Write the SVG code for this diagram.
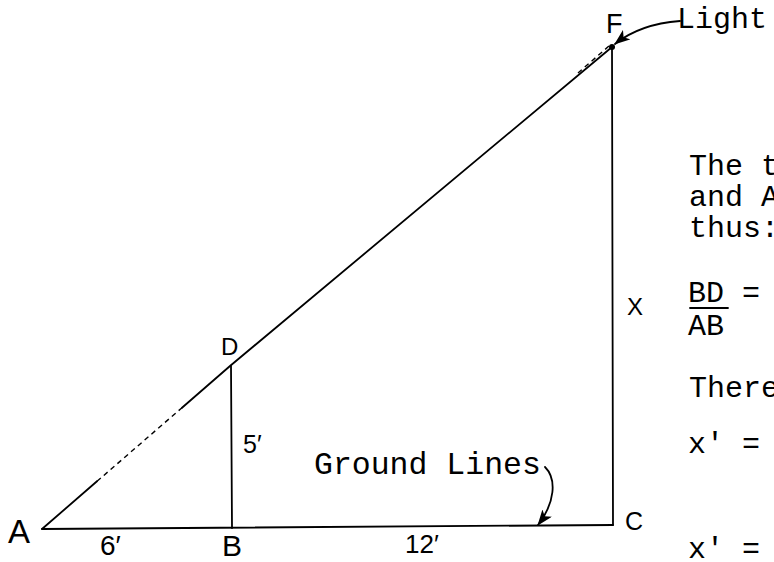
<svg xmlns="http://www.w3.org/2000/svg" width="774" height="562" viewBox="0 0 774 562">
<style>
.ln{stroke:#000;stroke-width:1.8;fill:none;stroke-linecap:round;stroke-linejoin:round}
.dsh{stroke:#000;stroke-width:1.4;fill:none;stroke-dasharray:5 4}
.lbl{font-family:"Liberation Sans","DejaVu Sans",sans-serif;fill:#000}
.tw{font-family:"Liberation Mono","DejaVu Sans Mono",monospace;font-size:30px;fill:#000}
</style>
<defs>
<marker id="ah" markerUnits="userSpaceOnUse" viewBox="0 0 16 12" refX="15" refY="6" markerWidth="16" markerHeight="12" orient="auto">
<path d="M0,0 L16,6 L0,12 L4,6 z" fill="#000"/>
</marker>
</defs>
<rect width="774" height="562" fill="#fff"/>
<g id="connectors">
<line class="ln" x1="42" y1="529" x2="97" y2="481.3"/>
<line class="dsh" x1="97" y1="481.3" x2="182" y2="407.7"/>
<polyline class="ln" points="182,407.7 230,366 612,47"/>
<line class="dsh" x1="578" y1="73" x2="609" y2="46"/>
<line class="ln" x1="42" y1="529" x2="613" y2="525"/>
<line class="ln" x1="612" y1="47" x2="613" y2="525"/>
<line class="ln" x1="231" y1="366" x2="232" y2="528"/>
<path class="ln" d="M680,21 Q640,24 615,44" marker-end="url(#ah)"/>
<path class="ln" d="M545,467 C557,479 555,503 538,525" marker-end="url(#ah)"/>
</g>
<g id="node-A"><text class="lbl" x="8" y="543" font-size="33">A</text></g>
<g id="node-B"><text class="lbl" x="222" y="556" font-size="30">B</text></g>
<g id="node-C"><text class="lbl" x="625" y="530" font-size="25">C</text></g>
<g id="node-D"><text class="lbl" x="221" y="355" font-size="24">D</text></g>
<g id="node-F"><circle cx="612" cy="47" r="3" fill="#000"/><text class="lbl" x="606" y="33" font-size="27">F</text></g>
<g id="labels">
<text class="lbl" x="100" y="555" font-size="28">6′</text>
<text class="lbl" x="405" y="553" font-size="26">12′</text>
<text class="lbl" x="243" y="453" font-size="25">5′</text>
<text class="lbl" x="627" y="315" font-size="24">X</text>
<text class="tw" x="677" y="28">Light</text>
<text class="tw" x="314" y="474" style="font-size:31.5px">Ground Lines</text>
</g>
<g id="text-block">
<text class="tw" x="689" y="175">The t</text>
<text class="tw" x="689" y="206">and A</text>
<text class="tw" x="689" y="237">thus:</text>
<text class="tw" x="688" y="302">BD =</text>
<line class="ln" x1="690" y1="308" x2="728" y2="308"/>
<text class="tw" x="688" y="335">AB</text>
<text class="tw" x="689" y="397">There</text>
<text class="tw" x="688" y="453">x' =</text>
<text class="tw" x="688" y="558">x' =</text>
</g>
</svg>
